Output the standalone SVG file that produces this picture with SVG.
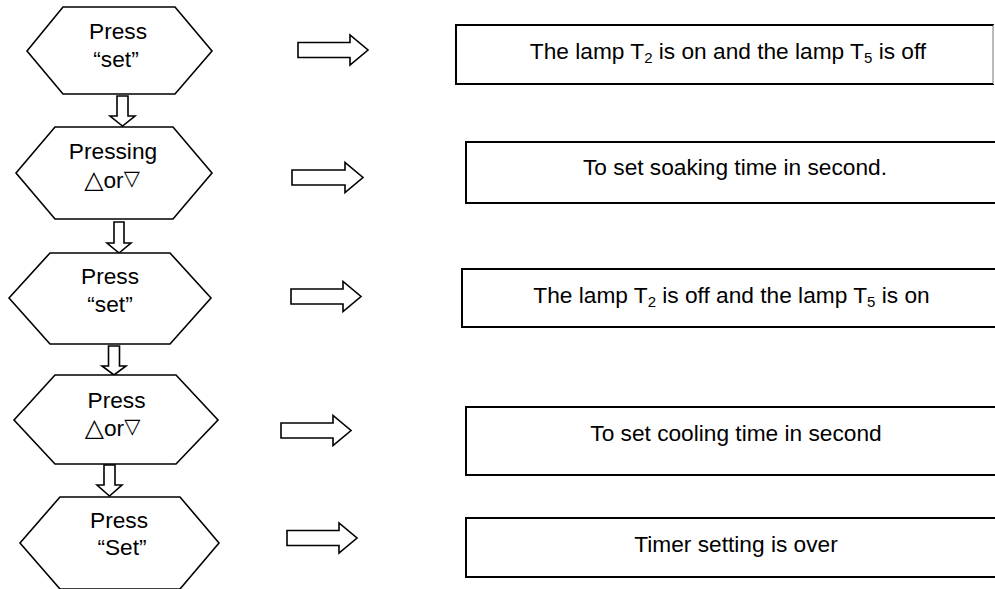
<svg xmlns="http://www.w3.org/2000/svg" width="995" height="589" viewBox="0 0 995 589">
<style>
.hex{fill:#fff;stroke:#000;stroke-width:1.6;stroke-linejoin:miter}
.box{fill:#fff;stroke:#000;stroke-width:2}
.arr{fill:#fff;stroke:#000;stroke-width:1.6;stroke-linejoin:miter}
text{font-family:"Liberation Sans",Arial,"DejaVu Sans","Noto Sans CJK SC",sans-serif;font-size:22.7px;fill:#000;text-anchor:middle}
.sub{font-size:15px}
.up{font-family:"DejaVu Sans","Noto Sans CJK SC",sans-serif;font-size:25px}
.dn{font-family:"DejaVu Sans","Noto Sans CJK SC",sans-serif;font-size:21px}
</style>
<rect width="995" height="589" fill="#fff"/>
<g id="connectors">
<path class="arr" d="M298,42.5 H350 V35 L368,50 L350,65 V57.5 H298 Z"/>
<path class="arr" d="M292,170 H345 V162.5 L363,177.5 L345,192.5 V185 H292 Z"/>
<path class="arr" d="M291,289 H343 V281.5 L361,296.5 L343,311.5 V304 H291 Z"/>
<path class="arr" d="M281,423 H333 V415.5 L351,430.5 L333,445.5 V438 H281 Z"/>
<path class="arr" d="M287,530.5 H339 V523 L357,538 L339,553 V545.5 H287 Z"/>
<path class="arr" d="M117,96 H128 V116 H135 L122.5,126 L110,116 H117 Z"/>
<path class="arr" d="M114,222 H124 V243 H131 L119,253 L107,243 H114 Z"/>
<path class="arr" d="M108.5,346 H119.5 V366 H126 L114,375 L102,366 H108.5 Z"/>
<path class="arr" d="M104,465 H115 V485 H122 L109.5,496 L97,485 H104 Z"/>
</g>
<g id="n1">
<polygon class="hex" points="27,51 63,7 175,7 212,51 175,94 63,94"/>
<text x="118" y="39">Press</text>
<text x="116" y="67">“set”</text>
</g>
<g id="n2">
<polygon class="hex" points="16,173 55,127 173,127 212,173 173,219 55,219"/>
<text x="112" y="188"><tspan class="up">△</tspan>or<tspan class="dn" dy="-3">▽</tspan></text>
<text x="113" y="159">Pressing</text>
</g>
<g id="n3">
<polygon class="hex" points="9,298 50,253 170,253 211,298 170,344 50,344"/>
<text x="110" y="284">Press</text>
<text x="110" y="312">“set”</text>
</g>
<g id="n4">
<polygon class="hex" points="14,420 55,375 176,375 218,420 176,464 55,464"/>
<text x="116.5" y="408">Press</text>
<text x="112.5" y="436"><tspan class="up">△</tspan>or<tspan class="dn" dy="-3">▽</tspan></text>
</g>
<g id="n5">
<polygon class="hex" points="20,543 60,497 180,497 219,543 180,589 60,589"/>
<text x="119" y="528">Press</text>
<text x="122" y="555">“Set”</text>
</g>
<g id="b1">
<rect class="box" x="456" y="25" width="537" height="59"/>
<line x1="993" y1="25" x2="993" y2="84" stroke="#bbb" stroke-width="2"/>
<path d="M993,25 H456 V84 H993" fill="none" stroke="#000" stroke-width="2"/>
<text x="728" y="59">The lamp T<tspan class="sub" dy="4">2</tspan><tspan dy="-4"> is on and the lamp T</tspan><tspan class="sub" dy="4">5</tspan><tspan dy="-4"> is off</tspan></text>
</g>
<g id="b2">
<path class="box" d="M1000,142 H466 V203 H1000"/>
<text x="735" y="175">To set soaking time in second.</text>
</g>
<g id="b3">
<path class="box" d="M1000,269 H462 V327 H1000"/>
<text x="731.5" y="303">The lamp T<tspan class="sub" dy="4">2</tspan><tspan dy="-4"> is off and the lamp T</tspan><tspan class="sub" dy="4">5</tspan><tspan dy="-4"> is on</tspan></text>
</g>
<g id="b4">
<path class="box" d="M1000,407 H466 V475 H1000"/>
<text x="736" y="441">To set cooling time in second</text>
</g>
<g id="b5">
<path class="box" d="M1000,518 H466 V577 H1000"/>
<text x="736" y="552">Timer setting is over</text>
</g>
</svg>
